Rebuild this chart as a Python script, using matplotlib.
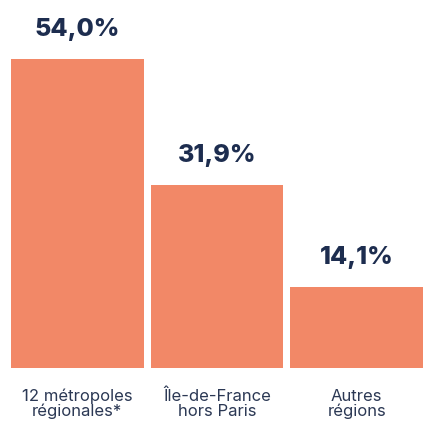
import matplotlib.pyplot as plt

categories = ["12 métropoles\nrégionales*", "Île-de-France\nhors Paris", "Autres\nrégions"]
values = [54.0, 31.9, 14.1]
value_labels = ["54,0%", "31,9%", "14,1%"]

bar_color = "#F28867"
text_color = "#1D2D4F"

fig = plt.figure(figsize=(4.23, 4.23), dpi=100)
ax = fig.add_axes([11 / 423, 55 / 423, 412 / 423, 309 / 423])

x = range(len(values))
ax.bar(x, values, width=0.95, color=bar_color)
ax.set_xlim(-0.475, 2.475)
ax.set_ylim(0, 54)

for i, (v, lab) in enumerate(zip(values, value_labels)):
    ax.annotate(lab, (i, v), xytext=(0, 13), textcoords="offset points",
                ha="center", va="bottom", fontsize=18, fontweight="heavy",
                family="Inter", color=text_color)
    ax.annotate(categories[i], (i, 0), xytext=(0, -15), textcoords="offset points",
                ha="center", va="top", fontsize=12, family="Inter",
                color="#2B3854", linespacing=0.95)

ax.axis("off")
fig.savefig("out.png", dpi=100)
